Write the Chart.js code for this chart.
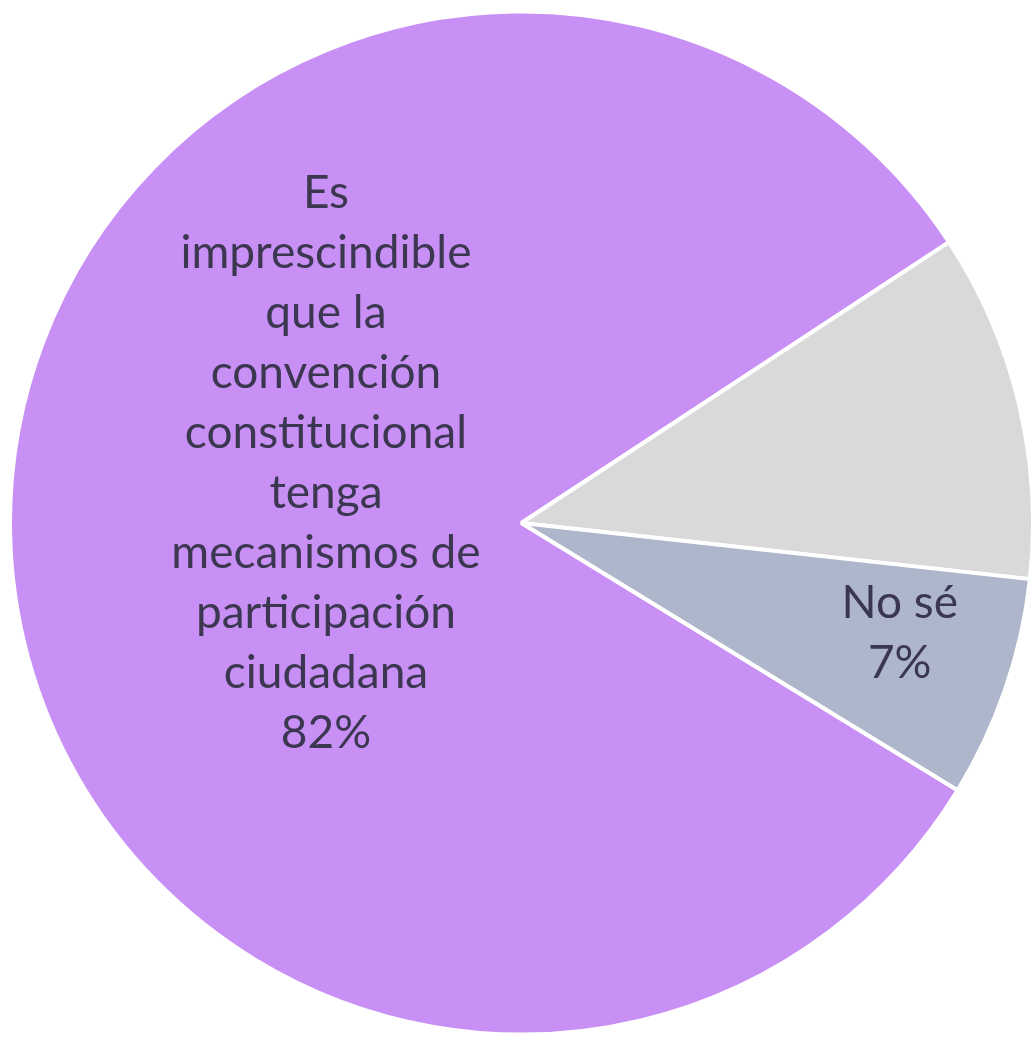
<!DOCTYPE html>
<html>
<head>
<meta charset="utf-8">
<script src="https://cdn.jsdelivr.net/npm/chart.js@4/dist/chart.umd.min.js"></script>
<style>
  html, body { margin: 0; padding: 0; background: #ffffff; }
  #wrap { width: 1035px; height: 1037px; position: relative; }
</style>
</head>
<body>
<div id="wrap"><canvas id="pie"></canvas></div>
<script>
  // datos del gráfico
  var categories = [
    'Es imprescindible que la convención constitucional tenga mecanismos de participación ciudadana',
    'No es imprescindible',
    'No sé'
  ];
  var values = [82, 11, 7];
  var sliceColors = ['#c890f5', '#d9d9d9', '#adb6ca'];
  // etiquetas tal como aparecen (null = sin etiqueta)
  var labelLines = [
    ['Es', 'imprescindible', 'que la', 'convención', 'constitucional', 'tenga', 'mecanismos de', 'participación', 'ciudadana', '82%'],
    null,
    ['No sé', '7%']
  ];

  // posición de la etiqueta: ángulo extra (grados) y fracción del radio
  var labelPlace = [
    { dAngle: 18, r: 0.40 },
    null,
    { dAngle: -2.7, r: 0.77 }
  ];

  var sliceLabels = {
    id: 'sliceLabels',
    afterDatasetsDraw: function (chart) {
      var ctx = chart.ctx;
      var meta = chart.getDatasetMeta(0);
      ctx.save();
      ctx.font = '46px Lato, "Open Sans", sans-serif';
      ctx.fillStyle = '#3c3750';
      ctx.textAlign = 'center';
      ctx.textBaseline = 'middle';
      var lh = 60;
      meta.data.forEach(function (arc, i) {
        var lines = labelLines[i];
        if (!lines) return;
        var p = arc.getProps(['x', 'y', 'startAngle', 'endAngle', 'outerRadius'], true);
        var mid = (p.startAngle + p.endAngle) / 2 + labelPlace[i].dAngle * Math.PI / 180;
        var rr = p.outerRadius * labelPlace[i].r;
        var cx = p.x + Math.cos(mid) * rr;
        var cy = p.y + Math.sin(mid) * rr;
        var top = cy - (lines.length - 1) * lh / 2;
        lines.forEach(function (t, k) {
          ctx.fillText(t, cx, top + k * lh);
        });
      });
      ctx.restore();
    }
  };

  new Chart(document.getElementById('pie'), {
    type: 'pie',
    data: {
      labels: categories,
      datasets: [{
        data: values,
        backgroundColor: sliceColors,
        borderColor: '#ffffff',
        borderWidth: 4
      }]
    },
    options: {
      responsive: true,
      maintainAspectRatio: false,
      animation: false,
      rotation: 121.5,
      layout: { padding: { left: 8, right: 0, top: 9, bottom: 0 } },
      plugins: {
        legend: { display: false },
        tooltip: { enabled: false }
      }
    },
    plugins: [sliceLabels]
  });
</script>
</body>
</html>
